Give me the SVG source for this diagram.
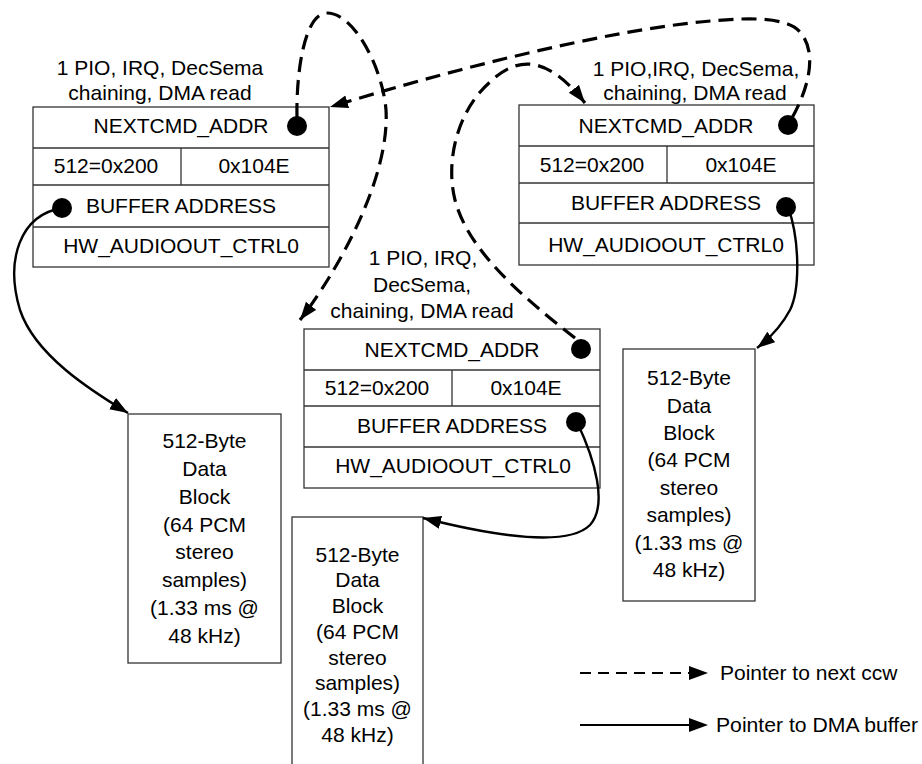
<svg xmlns="http://www.w3.org/2000/svg" width="922" height="764" viewBox="0 0 922 764">
<style>
text{font-family:"Liberation Sans",Arial,sans-serif;font-size:21px;fill:#000}
.c{text-anchor:middle}
.box{fill:#fff;stroke:#333;stroke-width:1.3}
.ln{stroke:#333;stroke-width:1.3;fill:none}
.dot{fill:#000}
.dash{fill:none;stroke:#000;stroke-width:3.2;stroke-dasharray:15 8}
.solid{fill:none;stroke:#000;stroke-width:2.4}
</style>
<defs>
<marker id="ah" markerUnits="userSpaceOnUse" markerWidth="20" markerHeight="14" refX="18" refY="6.5" orient="auto" viewBox="0 0 20 14">
<path d="M0,0 L18,6.5 L0,13 z" fill="#000"/>
</marker>
</defs>
<g id="node-left">
<rect class="box" x="33" y="107" width="296" height="160"/>
<line class="ln" x1="33" y1="148" x2="329" y2="148"/>
<line class="ln" x1="33" y1="185" x2="329" y2="185"/>
<line class="ln" x1="33" y1="227" x2="329" y2="227"/>
<line class="ln" x1="181" y1="148" x2="181" y2="185"/>
<text class="c" x="160" y="75">1 PIO, IRQ, DecSema</text>
<text class="c" x="160" y="100">chaining, DMA read</text>
<text class="c" x="181" y="133">NEXTCMD_ADDR</text>
<text class="c" x="106" y="173">512=0x200</text>
<text class="c" x="254" y="173">0x104E</text>
<text class="c" x="181" y="213">BUFFER ADDRESS</text>
<text class="c" x="181" y="253">HW_AUDIOOUT_CTRL0</text>
</g>
<g id="node-right">
<rect class="box" x="519" y="105" width="295" height="160"/>
<line class="ln" x1="519" y1="146" x2="814" y2="146"/>
<line class="ln" x1="519" y1="183" x2="814" y2="183"/>
<line class="ln" x1="519" y1="223" x2="814" y2="223"/>
<line class="ln" x1="667" y1="146" x2="667" y2="183"/>
<text class="c" x="696" y="76">1 PIO,IRQ, DecSema,</text>
<text class="c" x="695" y="100">chaining, DMA read</text>
<text class="c" x="666" y="133">NEXTCMD_ADDR</text>
<text class="c" x="592" y="172">512=0x200</text>
<text class="c" x="741" y="172">0x104E</text>
<text class="c" x="666" y="210">BUFFER ADDRESS</text>
<text class="c" x="666" y="252">HW_AUDIOOUT_CTRL0</text>
</g>
<g id="node-middle">
<rect class="box" x="304" y="329" width="296" height="159"/>
<line class="ln" x1="304" y1="370" x2="600" y2="370"/>
<line class="ln" x1="304" y1="406" x2="600" y2="406"/>
<line class="ln" x1="304" y1="447" x2="600" y2="447"/>
<line class="ln" x1="452" y1="370" x2="452" y2="406"/>
<text class="c" x="423" y="265">1 PIO, IRQ,</text>
<text class="c" x="422" y="292">DecSema,</text>
<text class="c" x="422" y="318">chaining, DMA read</text>
<text class="c" x="452" y="357">NEXTCMD_ADDR</text>
<text class="c" x="377" y="395">512=0x200</text>
<text class="c" x="526" y="395">0x104E</text>
<text class="c" x="452" y="433">BUFFER ADDRESS</text>
<text class="c" x="453" y="473">HW_AUDIOOUT_CTRL0</text>
</g>
<g id="block-1">
<rect class="box" x="128" y="414" width="153" height="249"/>
<text class="c" x="204.5" y="448">512-Byte</text>
<text class="c" x="204.5" y="476">Data</text>
<text class="c" x="204.5" y="504">Block</text>
<text class="c" x="204.5" y="532">(64 PCM</text>
<text class="c" x="204.5" y="559">stereo</text>
<text class="c" x="204.5" y="587">samples)</text>
<text class="c" x="204.5" y="615">(1.33 ms @</text>
<text class="c" x="204.5" y="643">48 kHz)</text>
</g>
<g id="block-2">
<rect class="box" x="292" y="517" width="131" height="260"/>
<text class="c" x="357.5" y="562">512-Byte</text>
<text class="c" x="357.5" y="587">Data</text>
<text class="c" x="357.5" y="613">Block</text>
<text class="c" x="357.5" y="639">(64 PCM</text>
<text class="c" x="357.5" y="665">stereo</text>
<text class="c" x="357.5" y="690">samples)</text>
<text class="c" x="357.5" y="716">(1.33 ms @</text>
<text class="c" x="357.5" y="742">48 kHz)</text>
</g>
<g id="block-3">
<rect class="box" x="623" y="349" width="132" height="252"/>
<text class="c" x="689" y="385">512-Byte</text>
<text class="c" x="689" y="413">Data</text>
<text class="c" x="689" y="440">Block</text>
<text class="c" x="689" y="467">(64 PCM</text>
<text class="c" x="689" y="495">stereo</text>
<text class="c" x="689" y="522">samples)</text>
<text class="c" x="689" y="550">(1.33 ms @</text>
<text class="c" x="689" y="577">48 kHz)</text>
</g>
<g id="connectors">
<path class="dash" marker-end="url(#ah)" d="M297,118 C296,70 305,13 327,13 C355,13 383,70 386,110 C390,180 335,275 300,320"/>
<path class="dash" marker-end="url(#ah)" d="M792,118 C805,95 820,55 800,32 C785,15 740,18 700,22 C600,32 450,70 330,107"/>
<path class="dash" marker-end="url(#ah)" d="M575,338 C520,295 468,250 455,200 C445,160 458,110 490,82 C515,58 545,52 585,103"/>
<path class="solid" marker-end="url(#ah)" d="M62,208 C20,215 5,260 20,310 C35,355 90,390 128,413"/>
<path class="solid" marker-end="url(#ah)" d="M788,207 C800,240 800,290 790,310 C782,325 770,338 757,348"/>
<path class="solid" marker-end="url(#ah)" d="M577,422 C595,460 608,505 590,525 C570,545 510,540 423,518"/>
<circle class="dot" cx="297" cy="126" r="10"/>
<circle class="dot" cx="62" cy="208" r="10"/>
<circle class="dot" cx="788" cy="125" r="10"/>
<circle class="dot" cx="786" cy="207" r="10"/>
<circle class="dot" cx="581" cy="349" r="10"/>
<circle class="dot" cx="576" cy="422" r="10"/>
</g>
<g id="legend">
<line x1="580" y1="673" x2="692" y2="673" stroke="#000" stroke-width="2" stroke-dasharray="11 7"/>
<path d="M689,666 L708,673 L689,680 z" fill="#000"/>
<line x1="580" y1="725" x2="692" y2="725" stroke="#000" stroke-width="2"/>
<path d="M689,718 L708,725 L689,732 z" fill="#000"/>
<text x="720" y="680">Pointer to next ccw</text>
<text x="716" y="732" textLength="202" lengthAdjust="spacingAndGlyphs">Pointer to DMA buffer</text>
</g>
</svg>
